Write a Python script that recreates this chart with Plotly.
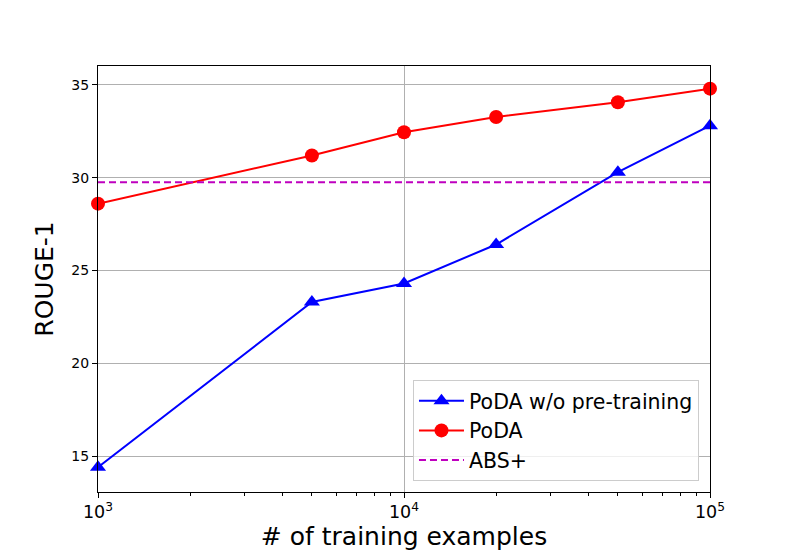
import plotly.graph_objects as go

# training set sizes (log x axis)
train_sizes = [1000, 5000, 10000, 20000, 50000, 100000]
rouge_no_pretrain = [14.4, 23.3, 24.3, 26.4, 30.3, 32.8]
rouge_poda = [28.6, 31.2, 32.45, 33.27, 34.07, 34.8]
abs_plus_x = [1000, 100000]
abs_plus_y = [29.76, 29.76]

font_family = "DejaVu Sans"

fig = go.Figure()

fig.add_trace(go.Scatter(
    x=train_sizes, y=rouge_no_pretrain,
    mode="lines+markers", name="PoDA w/o pre-training",
    line=dict(color="#0000ff", width=2),
    marker=dict(symbol="triangle-up", size=14, color="#0000ff"),
    cliponaxis=False,
))
fig.add_trace(go.Scatter(
    x=train_sizes, y=rouge_poda,
    mode="lines+markers", name="PoDA",
    line=dict(color="#ff0000", width=2),
    marker=dict(symbol="circle", size=14, color="#ff0000"),
    cliponaxis=False,
))
fig.add_trace(go.Scatter(
    x=abs_plus_x, y=abs_plus_y,
    mode="lines", name="ABS+",
    line=dict(color="#bf00bf", width=2, dash="7px,4px"),
))

# page body has an 8px margin, so shift the plot area up/left by 8px
fig.update_layout(
    width=789, height=554,
    margin=dict(l=90, r=87, t=58, b=70),
    plot_bgcolor="white",
    paper_bgcolor="white",
    font=dict(family=font_family, color="black", size=14),
    legend=dict(
        x=0.982, y=0.026, xanchor="right", yanchor="bottom",
        bgcolor="rgba(255,255,255,0.8)",
        bordercolor="#cccccc", borderwidth=1,
        font=dict(size=20.5),
        itemwidth=45,
        tracegroupgap=0,
    ),
    xaxis=dict(
        type="log",
        range=[2.99999, 5.00001],
        dtick=1,
        exponentformat="power",
        showgrid=True, gridcolor="#b0b0b0", gridwidth=1,
        showline=True, linecolor="black", linewidth=1, mirror=True,
        ticks="outside", ticklen=5, tickcolor="black",
        minor=dict(ticks="outside", ticklen=3, tickcolor="black", dtick="D1", showgrid=False),
        title=dict(text="# of training examples", font=dict(size=25), standoff=6),
        zeroline=False,
    ),
    yaxis=dict(
        range=[13.06, 36.02],
        tickvals=[15, 20, 25, 30, 35],
        showgrid=True, gridcolor="#b0b0b0", gridwidth=1,
        showline=True, linecolor="black", linewidth=1, mirror=True,
        ticks="outside", ticklen=5, tickcolor="black",
        title=dict(text="ROUGE-1", font=dict(size=25), standoff=10),
        zeroline=False,
    ),
)

fig.write_html("out.html")
